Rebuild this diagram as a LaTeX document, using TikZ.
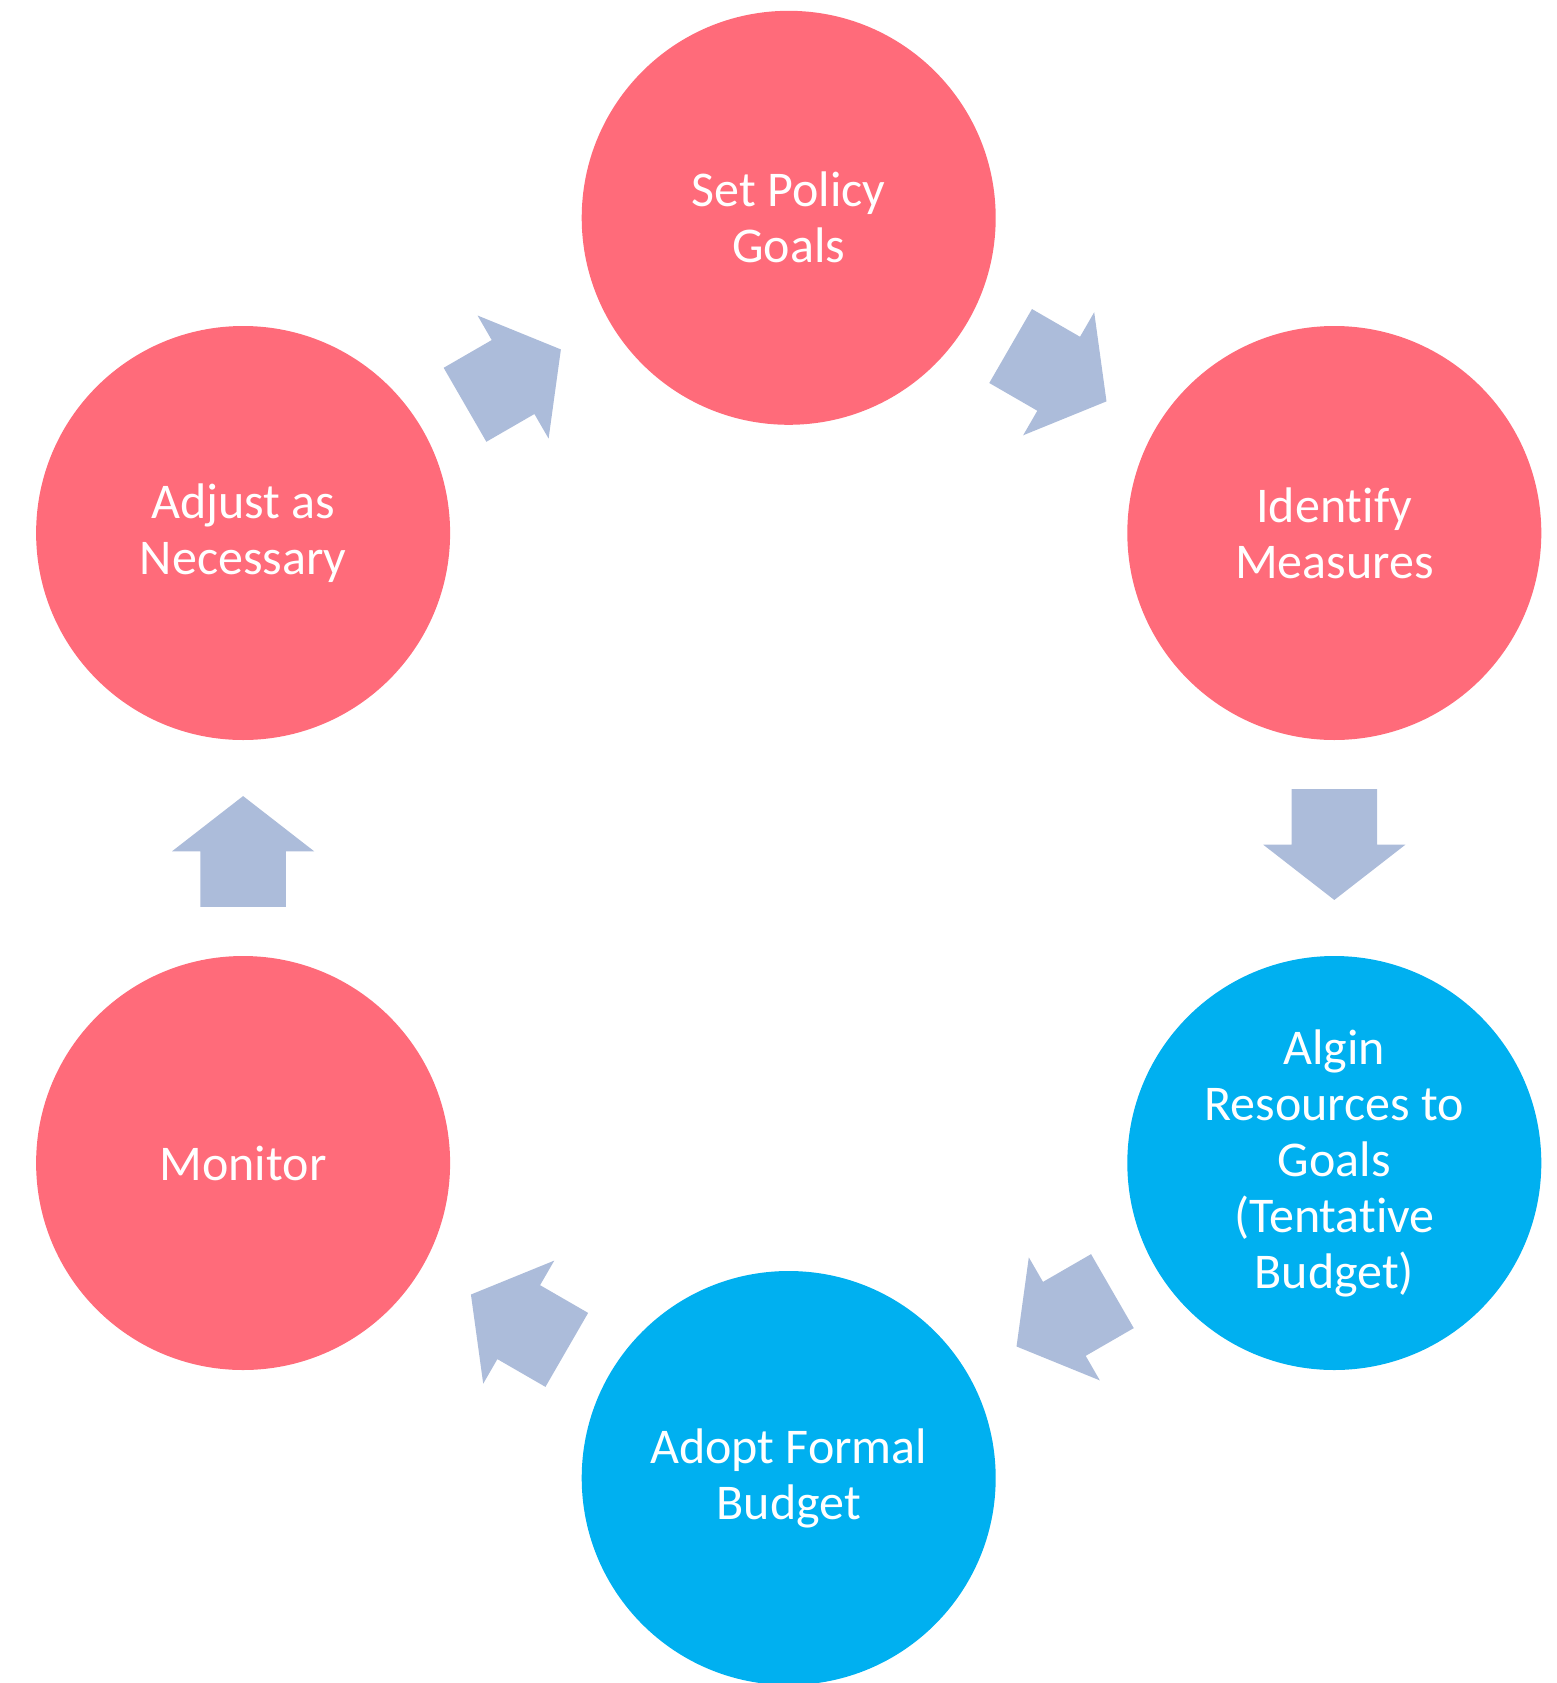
\documentclass[tikz,border=0pt]{standalone}
\usepackage{fontspec}
\setmainfont[Ligatures={NoCommon,NoDiscretionary,NoContextual}]{Carlito}
\usetikzlibrary{shapes.arrows,calc}
\definecolor{pinkc}{RGB}{255,107,122}
\definecolor{bluec}{RGB}{0,176,240}
\definecolor{arrowc}{RGB}{172,188,218}
\tikzset{
  stepcirc/.style={circle, minimum size=414pt, inner sep=0pt, text=white, align=center,
    font=\fontsize{50}{56}\selectfont},
  pinkstep/.style={stepcirc, fill=pinkc},
  bluestep/.style={stepcirc, fill=bluec},
  blockarrow/.style={single arrow, fill=arrowc, draw=none, inner xsep=0pt, inner ysep=42.5pt,
    minimum height=110.7pt,
    single arrow head extend=28.35pt, single arrow tip angle=104.3,
    single arrow head indent=0pt}
}
\begin{document}
\begin{tikzpicture}[x=1pt,y=-1pt]
\useasboundingbox (0,0) rectangle (1557,1683);
\node[pinkstep] (goals) at (788.7,217.8) {Set Policy\\Goals};
\node[pinkstep] (measures) at (1334.3,533) {Identify\\Measures};
\node[bluestep] (align) at (1334.3,1163) {Algin\\Resources to\\Goals\\(Tentative\\Budget)};
\node[bluestep] (adopt) at (788.7,1478) {Adopt Formal\\Budget};
\node[pinkstep] (monitor) at (243.1,1163) {Monitor};
\node[pinkstep] (adjust) at (243.1,533) {Adjust as\\Necessary};
\node[blockarrow, rotate=-30] (a1) at ($(goals)!0.5!(measures)!20pt!(goals)$) {};
\node[blockarrow, rotate=-90] (a2) at ($(measures)!0.5!(align)!20pt!(measures)$) {};
\node[blockarrow, rotate=-150] (a3) at ($(align)!0.5!(adopt)!20pt!(align)$) {};
\node[blockarrow, rotate=150] (a4) at ($(adopt)!0.5!(monitor)!20pt!(adopt)$) {};
\node[blockarrow, rotate=90] (a5) at ($(monitor)!0.5!(adjust)!20pt!(monitor)$) {};
\node[blockarrow, rotate=30] (a6) at ($(adjust)!0.5!(goals)!20pt!(adjust)$) {};
\end{tikzpicture}
\end{document}
